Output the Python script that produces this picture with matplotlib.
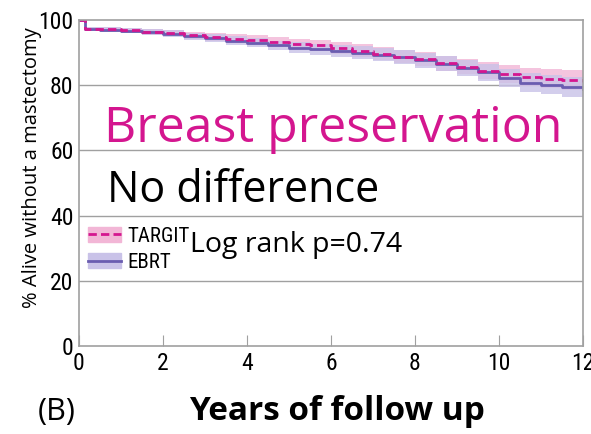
# Kaplan-Meier style plot: breast preservation, TARGIT vs EBRT
import numpy as np
import matplotlib.pyplot as plt
from matplotlib import font_manager
from matplotlib.patches import Patch
from matplotlib.lines import Line2D
from matplotlib.legend_handler import HandlerTuple

# ------------------------ Data ------------------------ #
years = [0, 0.15, 0.5, 1, 1.5, 2, 2.5, 3, 3.5, 4, 4.5, 5, 5.5, 6, 6.5, 7, 7.5, 8,
         8.5, 9, 9.5, 10, 10.5, 11, 11.5, 12]
targit = [100, 97.3, 97.1, 96.8, 96.4, 96.0, 95.3, 94.8, 94.3, 93.9, 93.3, 92.7, 92.2,
          91.4, 90.6, 89.7, 88.8, 88.0, 86.8, 85.7, 84.5, 83.5, 82.5, 82.0, 81.5, 81.0]
targit_lo = [100, 96.7, 96.4, 96.0, 95.5, 95.0, 94.2, 93.6, 93.0, 92.5, 91.8, 91.1, 90.5,
             89.6, 88.7, 87.7, 86.7, 85.8, 84.5, 83.3, 82.0, 80.8, 79.7, 79.0, 78.4, 77.8]
targit_hi = [100, 97.9, 97.8, 97.6, 97.3, 97.0, 96.4, 96.0, 95.6, 95.3, 94.8, 94.3, 93.9,
             93.2, 92.5, 91.7, 90.9, 90.2, 89.1, 88.1, 87.0, 86.2, 85.3, 85.0, 84.6, 84.2]
ebrt = [100, 97.3, 97.0, 96.7, 96.3, 95.8, 95.0, 94.4, 93.7, 93.0, 92.2, 91.5, 91.0,
        90.6, 90.0, 89.4, 88.6, 87.6, 86.6, 85.3, 84.0, 82.3, 80.8, 80.2, 79.5, 78.8]
ebrt_lo = [100, 96.7, 96.3, 95.9, 95.4, 94.8, 93.9, 93.2, 92.4, 91.6, 90.7, 89.9, 89.3,
           88.8, 88.1, 87.4, 86.5, 85.4, 84.3, 82.9, 81.4, 79.6, 78.0, 77.2, 76.4, 75.5]
ebrt_hi = [100, 97.9, 97.7, 97.5, 97.2, 96.8, 96.1, 95.6, 95.0, 94.4, 93.7, 93.1, 92.7,
           92.4, 91.9, 91.4, 90.7, 89.8, 88.9, 87.7, 86.6, 85.0, 83.6, 83.2, 82.6, 82.1]
x_ticks = [0, 2, 4, 6, 8, 10, 12]
y_ticks = [0, 20, 40, 60, 80, 100]

colors = {
  'targit': '#d4168f',
  'targit_band': '#f2b6d6',
  'ebrt': '#6a5cb0',
  'ebrt_band': '#c9c2e8',
  'frame': '#a0a0a0',
}

# pick a narrow font for ticks / legend if one is installed
installed = {f.name: f for f in font_manager.fontManager.ttflist}
narrow_stretch = 'normal'
tick_size, legend_size = 14, 13
narrow = ['Roboto', 'DejaVu Sans']
for name in ['Liberation Sans Narrow', 'Roboto Condensed', 'Open Sans Condensed', 'Noto Sans Condensed']:
  if name in installed:
    narrow, tick_size, legend_size = [name, 'DejaVu Sans'], 17, 15
    break
else:
  cond = [f for f in font_manager.fontManager.ttflist
          if f.stretch in ('condensed', 'semi-condensed', 'extra-condensed') and f.style == 'normal']
  if cond:
    narrow, narrow_stretch = [cond[0].name, 'DejaVu Sans'], cond[0].stretch
    tick_size, legend_size = 17, 15

plt.rcParams['font.family'] = ['Open Sans', 'DejaVu Sans']

# ------------------------ Plot ------------------------ #
fig = plt.figure(figsize=(5.91, 4.34), dpi=100)
ax = fig.add_axes([79 / 591, 88 / 434, 504 / 591, 326 / 434])

ax.fill_between(years, targit_lo, targit_hi, step='post', color=colors['targit_band'], alpha=0.8, lw=0)
ax.fill_between(years, ebrt_lo, ebrt_hi, step='post', color=colors['ebrt_band'], alpha=0.8, lw=0)
ax.step(years, ebrt, where='post', color=colors['ebrt'], lw=2)
ax.step(years, targit, where='post', color=colors['targit'], lw=2, ls=(0, (3, 1.5)))

ax.set_xlim(0, 12)
ax.set_ylim(0, 100)
ax.set_xticks(x_ticks)
ax.set_yticks(y_ticks)
tick_font = dict(family=narrow, fontsize=tick_size, fontstretch=narrow_stretch)
ax.set_xticklabels([str(t) for t in x_ticks], **tick_font)
ax.set_yticklabels([str(t) for t in y_ticks], **tick_font)
ax.tick_params(axis='x', direction='in', length=8, color=colors['frame'], pad=4)
ax.tick_params(axis='y', length=0, pad=4)
for v in y_ticks[1:-1]:
  ax.axhline(v, color=colors['frame'], lw=1, zorder=0)
for s in ax.spines.values():
  s.set_color(colors['frame'])
  s.set_linewidth(1.2)

ax.set_ylabel('% Alive without a mastectomy', fontsize=14.5)
ax.yaxis.set_label_coords(-0.073, 0.546)

# legend
h_targit = (Patch(color=colors['targit_band']), Line2D([], [], color=colors['targit'], lw=2, ls=(0, (3, 1.5))))
h_ebrt = (Patch(color=colors['ebrt_band']), Line2D([], [], color=colors['ebrt'], lw=2))
ax.legend([h_targit, h_ebrt], ['TARGIT', 'EBRT'], handler_map={tuple: HandlerTuple(ndivide=1)},
          loc='center left', bbox_to_anchor=(0.018, 0.297), frameon=False, handlelength=1.6,
          handleheight=0.7, handletextpad=0.3, labelspacing=0.35, borderaxespad=0, borderpad=0,
          prop={'family': narrow, 'size': legend_size, 'stretch': narrow_stretch})

# annotations
ax.text(0.05, 0.665, 'Breast preservation', transform=ax.transAxes, color=colors['targit'],
        fontsize=36, va='center')
ax.text(0.055, 0.475, 'No difference', transform=ax.transAxes, color='black', fontsize=31, va='center')
ax.text(0.22, 0.31, 'Log rank p=0.74', transform=ax.transAxes, color='black', fontsize=20.5, va='center')

fig.text(38 / 591, 1 - 412 / 434, '(B)', fontsize=22, va='center')
fig.text(337 / 591, 1 - 412 / 434, 'Years of follow up', fontsize=24, fontweight='bold', va='center', ha='center')

fig.savefig('out.png', dpi=100)
